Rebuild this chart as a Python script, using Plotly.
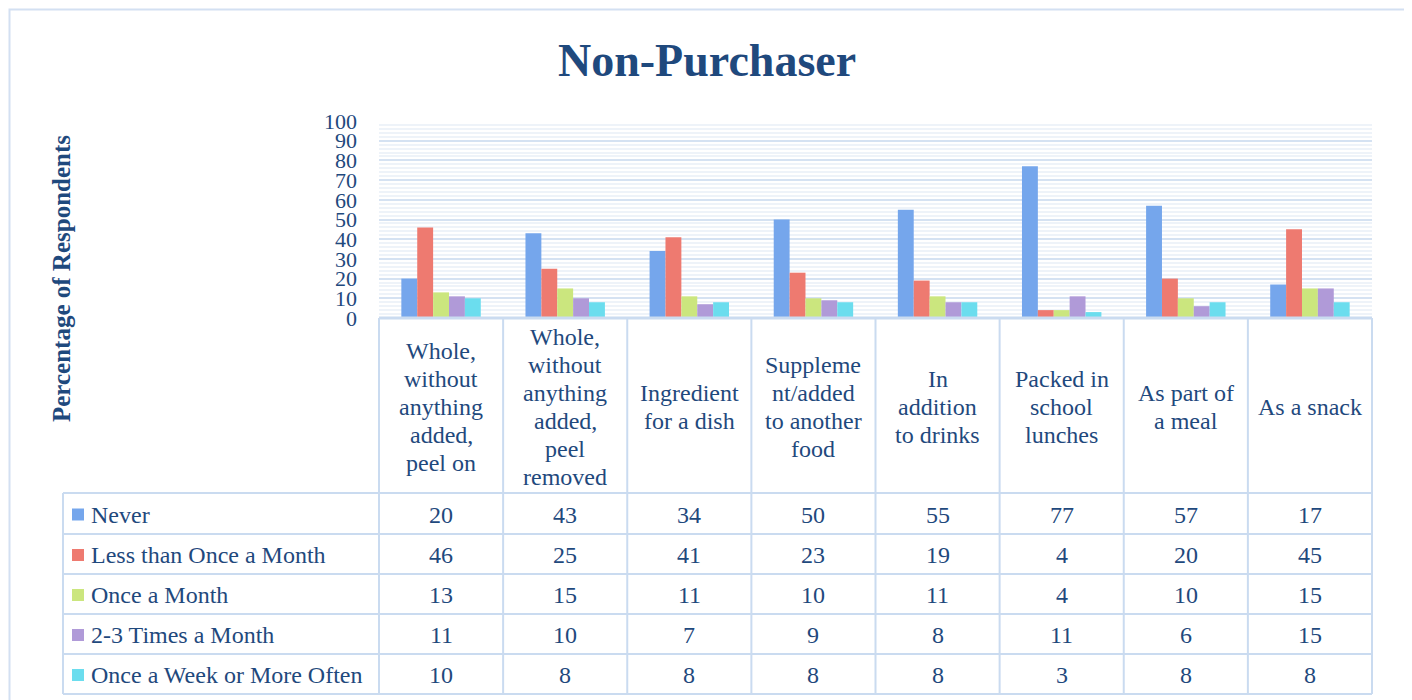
import plotly.graph_objects as go

# ---------------- data ----------------
categories = [
    "Whole, without anything added, peel on",
    "Whole, without anything added, peel removed",
    "Ingredient for a dish",
    "Supplement/added to another food",
    "In addition to drinks",
    "Packed in school lunches",
    "As part of a meal",
    "As a snack",
]
category_lines = [
    ["Whole,", "without", "anything", "added,", "peel on"],
    ["Whole,", "without", "anything", "added,", "peel", "removed"],
    ["Ingredient", "for a dish"],
    ["Suppleme", "nt/added", "to another", "food"],
    ["In", "addition", "to drinks"],
    ["Packed in", "school", "lunches"],
    ["As part of", "a meal"],
    ["As a snack"],
]
series_names = [
    "Never",
    "Less than Once a Month",
    "Once a Month",
    "2-3 Times a Month",
    "Once a Week or More Often",
]
never = [20, 43, 34, 50, 55, 77, 57, 17]
less_than_monthly = [46, 25, 41, 23, 19, 4, 20, 45]
once_a_month = [13, 15, 11, 10, 11, 4, 10, 15]
two_three_month = [11, 10, 7, 9, 8, 11, 6, 15]
weekly_or_more = [10, 8, 8, 8, 8, 3, 8, 8]
series_values = [never, less_than_monthly, once_a_month, two_three_month, weekly_or_more]
y_ticks = [0, 10, 20, 30, 40, 50, 60, 70, 80, 90, 100]

# ---------------- styles ----------------
colors = ["#75A6EC", "#EE7A70", "#CBE67E", "#B09AD8", "#6BDDEE"]
TXT = "#1F497D"
LINE = "#CADBF0"
FONT = "Liberation Serif"

OFF = 8                      # page body margin in the browser
W, H = 1412 - OFF, 700 - OFF
L, R, T, B = 379 - OFF, 1372 - OFF, 121 - OFF, 318 - OFF
PW, PH = R - L, B - T


def px(x):
    """reference-window pixel x -> paper"""
    return ((x - OFF) - L) / PW


def py(y):
    """reference-window pixel y -> paper"""
    return (B - (y - OFF)) / PH


fig = go.Figure()
for name, vals, col in zip(series_names, series_values, colors):
    fig.add_trace(go.Bar(
        x=categories, y=vals, name=name,
        marker=dict(color=col, line=dict(width=0)),
        showlegend=False, hoverinfo="x+y+name",
    ))

shapes = []
ann = []

# table geometry (reference-window pixels)
RL, RR, RB = 379, 1372, 318
row_edges = [493, 534, 574, 614, 654, 694]
ncat = len(categories)
col_edges = [RL + i * (RR - RL) / ncat for i in range(ncat + 1)]

for xe in col_edges:
    shapes.append(dict(type="line", xref="paper", yref="paper",
                       x0=px(xe), x1=px(xe), y0=py(RB), y1=py(row_edges[-1]),
                       line=dict(color=LINE, width=2)))
shapes.append(dict(type="line", xref="paper", yref="paper",
                   x0=px(63), x1=px(63), y0=py(row_edges[0]), y1=py(row_edges[-1]),
                   line=dict(color=LINE, width=2)))
shapes.append(dict(type="line", xref="paper", yref="paper",
                   x0=px(RL), x1=px(RR), y0=py(RB), y1=py(RB),
                   line=dict(color=LINE, width=3)))
for ye in row_edges:
    shapes.append(dict(type="line", xref="paper", yref="paper",
                       x0=px(63), x1=px(RR), y0=py(ye), y1=py(ye),
                       line=dict(color=LINE, width=2)))
# outer chart border
shapes.append(dict(type="rect", xref="paper", yref="paper",
                   x0=px(9.5), x1=px(1406), y0=py(9.5), y1=py(712),
                   line=dict(color="#D3E0F2", width=2), fillcolor="rgba(0,0,0,0)"))

# legend keys + series names + values
for r, (name, vals, col) in enumerate(zip(series_names, series_values, colors)):
    yc = (row_edges[r] + row_edges[r + 1]) / 2
    shapes.append(dict(type="rect", xref="paper", yref="paper",
                       x0=px(72), x1=px(84), y0=py(yc - 6 + 1), y1=py(yc + 6 + 1),
                       line=dict(width=0), fillcolor=col))
    ann.append(dict(text=name, xref="paper", yref="paper", x=px(89), y=py(yc + 1),
                    xanchor="left", yanchor="middle", showarrow=False,
                    font=dict(family=FONT, size=24, color=TXT)))
    for c, v in zip(categories, vals):
        ann.append(dict(text=str(v), xref="x", yref="paper", x=c, y=py(yc + 1),
                        xanchor="center", yanchor="middle", showarrow=False,
                        font=dict(family=FONT, size=24, color=TXT)))

# category labels (vertically centred in header row)
LH = 28
for c, lines in zip(categories, category_lines):
    n = len(lines)
    for k, line in enumerate(lines):
        yc = 407 + (k - (n - 1) / 2) * LH
        ann.append(dict(text=line, xref="x", yref="paper", x=c, y=py(yc),
                        xanchor="center", yanchor="middle", showarrow=False,
                        font=dict(family=FONT, size=24, color=TXT)))

# title and axis title
ann.append(dict(text="<b>Non-Purchaser</b>", xref="paper", yref="paper",
                x=px(706.5), y=py(60), xanchor="center", yanchor="middle",
                showarrow=False, font=dict(family=FONT, size=46, color=TXT)))
ann.append(dict(text="<b>Percentage of Respondents</b>", xref="paper", yref="paper",
                x=px(61), y=py(279), xanchor="center", yanchor="middle",
                textangle=-90, showarrow=False,
                font=dict(family=FONT, size=25, color=TXT)))

fig.update_layout(
    width=W, height=H,
    margin=dict(l=L, r=W - R, t=T, b=H - B, pad=0),
    paper_bgcolor="white", plot_bgcolor="white",
    barmode="group", bargap=0.36, bargroupgap=0,
    shapes=shapes, annotations=ann,
    xaxis=dict(type="category", range=[-0.5, ncat - 0.5], showticklabels=False,
               showgrid=False, zeroline=False, showline=False, ticks=""),
    yaxis=dict(range=[0, 100], tickvals=y_ticks, ticktext=[str(t) for t in y_ticks],
               showgrid=True, gridcolor="#D5E2F2", gridwidth=2,
               minor=dict(dtick=2, showgrid=True, gridcolor="#EEF3F9", gridwidth=2),
               zeroline=False, showline=False, ticks="", ticklabelstandoff=21,
               tickfont=dict(family=FONT, size=22, color=TXT)),
    font=dict(family=FONT, color=TXT),
)

fig.write_html("out.html")
